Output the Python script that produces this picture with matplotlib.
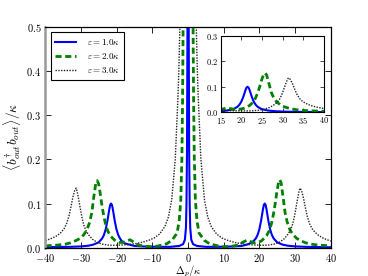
import matplotlib
matplotlib.use("Agg")
import matplotlib.pyplot as plt

plt.rcParams["mathtext.fontset"] = "cm"
plt.rcParams["font.family"] = "serif"
plt.rcParams["font.serif"] = ["DejaVu Serif"]

# --- data ---
blue_x = [-40, -36, -33, -30, -28, -26.6, -25.1, -24.1, -23.6, -23.1, -22.6, -22.1, -21.85,
          -21.6, -21.35, -21.1, -20.6, -20.1, -19.6, -19.1, -18.6, -17.8, -16.5, -15, -13, -11,
          -8, -5, -2.5, -1.4, -0.9, -0.6, -0.45, -0.3, -0.15, 0,
          0.15, 0.3, 0.45, 0.6, 0.9, 1.4, 2.5, 5, 8, 11, 13, 15, 16.5, 18, 19, 19.5, 20,
          20.5, 21, 21.25, 21.5, 21.75, 22, 22.5, 23, 23.5, 24, 25, 26.5, 28, 30, 33, 36, 40]
blue_y = [0.0015, 0.0017, 0.002, 0.003, 0.0045, 0.007, 0.012, 0.021, 0.029, 0.042, 0.062,
          0.087, 0.097, 0.1, 0.097, 0.087, 0.062, 0.042, 0.029, 0.021, 0.015, 0.01, 0.007,
          0.004, 0.003, 0.0025, 0.002, 0.002, 0.004, 0.008, 0.018, 0.045, 0.1, 0.22, 0.55, 1.5,
          0.55, 0.22, 0.1, 0.045, 0.018, 0.008, 0.004, 0.002, 0.002, 0.0025, 0.003, 0.004,
          0.007, 0.012, 0.021, 0.029, 0.042, 0.062, 0.087, 0.097, 0.1, 0.097, 0.087, 0.062,
          0.042, 0.029, 0.021, 0.012, 0.007, 0.0045, 0.003, 0.002, 0.0015, 0.001]

green_x = [-40, -38.5, -36.5, -34.5, -33, -31.5, -30.3, -29.3, -28.4, -27.6, -27.0, -26.4,
           -25.9, -25.5, -25.1, -24.7, -24.2, -23.7, -23.2, -22.6, -21.8, -21.1, -20.3,
           -19.3, -18.3, -17.3, -16.3, -15.3, -14, -12, -10, -8.4, -6, -4.5, -3.1, -2.5,
           -2.05, -1.75, -1.55, -1.4, -1.0, 0,
           1.0, 1.4, 1.55, 1.75, 2.05, 2.5, 3.1, 4.5, 6, 8.4, 10, 12, 14, 15.5, 16.5, 17.5,
           18.5, 19.5, 20.5, 21.3, 22, 22.8, 23.4, 23.9, 24.4, 24.9, 25.3, 25.7, 26.1, 26.6,
           27.2, 27.8, 28.6, 29.5, 30.5, 31.5, 33, 34.5, 36.5, 38.5, 40]
green_y = [0.004, 0.005, 0.006, 0.008, 0.011, 0.016, 0.021, 0.029, 0.04, 0.058, 0.08,
           0.118, 0.145, 0.152, 0.145, 0.126, 0.098, 0.074, 0.055, 0.039, 0.027, 0.021,
           0.015, 0.012, 0.012, 0.015, 0.018, 0.013, 0.006, 0.003, 0.002, 0.004, 0.009,
           0.017, 0.033, 0.06, 0.108, 0.2, 0.33, 0.5, 0.9, 3.0,
           0.9, 0.5, 0.33, 0.2, 0.108, 0.06, 0.033, 0.017, 0.009, 0.004, 0.002, 0.003,
           0.006, 0.013, 0.017, 0.014, 0.011, 0.012, 0.015, 0.021, 0.027, 0.039, 0.055,
           0.074, 0.098, 0.126, 0.145, 0.154, 0.147, 0.118, 0.08, 0.058, 0.04, 0.029,
           0.021, 0.016, 0.011, 0.008, 0.006, 0.005, 0.004]

black_x = [-40, -39, -37.8, -36.6, -35.6, -34.8, -34.1, -33.4, -32.8, -32.3, -31.8, -31.4,
           -31.1, -30.7, -30.2, -29.7, -29.2, -28.6, -27.8, -26.8, -25.5, -24, -22.5, -21,
           -19, -17, -15, -13, -11, -9.5, -8, -6.5, -5.5, -4.6, -3.6, -2.9, -2.6, -2.3,
           -2.0, -1.5, 0,
           1.5, 2.0, 2.3, 2.6, 2.9, 3.6, 4.6, 5.5, 6.5, 8, 9.5, 11, 13, 15, 17, 19, 21,
           22.5, 24, 25.5, 26.8, 27.8, 28.6, 29.2, 29.7, 30.2, 30.7, 31.1, 31.4, 31.8,
           32.3, 32.8, 33.4, 34.1, 34.8, 35.6, 36.6, 37.8, 39, 40]
black_y = [0.016, 0.019, 0.023, 0.028, 0.035, 0.043, 0.054, 0.072, 0.095, 0.115, 0.13,
           0.135, 0.127, 0.11, 0.087, 0.066, 0.05, 0.038, 0.028, 0.019, 0.012, 0.008,
           0.006, 0.0055, 0.006, 0.007, 0.009, 0.012, 0.017, 0.022, 0.031, 0.048, 0.07,
           0.108, 0.2, 0.33, 0.4, 0.5, 0.65, 1.1, 5.0,
           1.1, 0.65, 0.5, 0.4, 0.33, 0.2, 0.108, 0.07, 0.048, 0.031, 0.022, 0.017, 0.012,
           0.009, 0.007, 0.006, 0.0055, 0.006, 0.008, 0.012, 0.019, 0.028, 0.038, 0.05,
           0.066, 0.087, 0.11, 0.127, 0.135, 0.13, 0.115, 0.095, 0.072, 0.054, 0.043,
           0.035, 0.028, 0.022, 0.018, 0.015]

labels = [r"$\varepsilon=1.0\kappa$", r"$\varepsilon=2.0\kappa$", r"$\varepsilon=3.0\kappa$"]
xticks = [-40, -30, -20, -10, 0, 10, 20, 30, 40]
yticks = [0.0, 0.1, 0.2, 0.3, 0.4, 0.5]
inset_xticks = [15, 20, 25, 30, 35, 40]
inset_yticks = [0.0, 0.1, 0.2, 0.3]


def draw_curves(ax):
    ax.plot(blue_x, blue_y, color="#0000ff", lw=1.5, label=labels[0])
    ax.plot(green_x, green_y, color="#008000", lw=2.0, dashes=(2.2, 1.3), label=labels[1])
    ax.plot(black_x, black_y, color="#222222", lw=1.0, dashes=(1, 1), label=labels[2])


fig = plt.figure(figsize=(3.68, 2.76), dpi=100)
ax = fig.add_axes([0.1236, 0.1025, 0.775, 0.7995])
draw_curves(ax)
ax.set_xlim(-40, 40)
ax.set_ylim(0, 0.5)
ax.set_xticks(xticks)
ax.set_xticklabels([f"${v:g}$" for v in xticks], fontsize=7.5)
ax.set_yticks(yticks)
ax.set_yticklabels([f"${v:.1f}$" for v in yticks], fontsize=7.5)
ax.tick_params(direction="in", top=True, right=True, length=4, width=0.6, pad=3)
for s in ["top", "right", "bottom"]:
    ax.spines[s].set_linewidth(0.9)
ax.spines["left"].set_color("#9a9a9a")
ax.spines["left"].set_linewidth(1.8)
ax.set_xlabel(r"$\Delta_p/\kappa$", fontsize=7.5)
ax.xaxis.set_label_coords(0.5, -0.068)
ax.set_ylabel(r"$\left\langle b_{out}^{\dagger}b_{out}\right\rangle/\kappa$", fontsize=9.5)
ax.yaxis.set_label_coords(-0.08, 0.5)
leg = ax.legend(loc="upper left", fontsize=6.5, fancybox=False, framealpha=1,
                edgecolor="black", handlelength=2.3, borderaxespad=0.6, labelspacing=0.45,
                handletextpad=1.2, borderpad=0.5)
leg.get_frame().set_linewidth(0.8)

ins = fig.add_axes([0.5997, 0.593, 0.2807, 0.2775])
draw_curves(ins)
ins.set_xlim(15, 40)
ins.set_ylim(0, 0.3)
ins.set_xticks(inset_xticks)
ins.set_xticklabels([f"${v:g}$" for v in inset_xticks], fontsize=6)
ins.set_yticks(inset_yticks)
ins.set_yticklabels([f"${v:.1f}$" for v in inset_yticks], fontsize=6)
ins.tick_params(direction="in", top=True, right=True, length=3, width=0.5, pad=2)
for s in ins.spines.values():
    s.set_linewidth(0.8)

fig.savefig("out.png", dpi=100)
